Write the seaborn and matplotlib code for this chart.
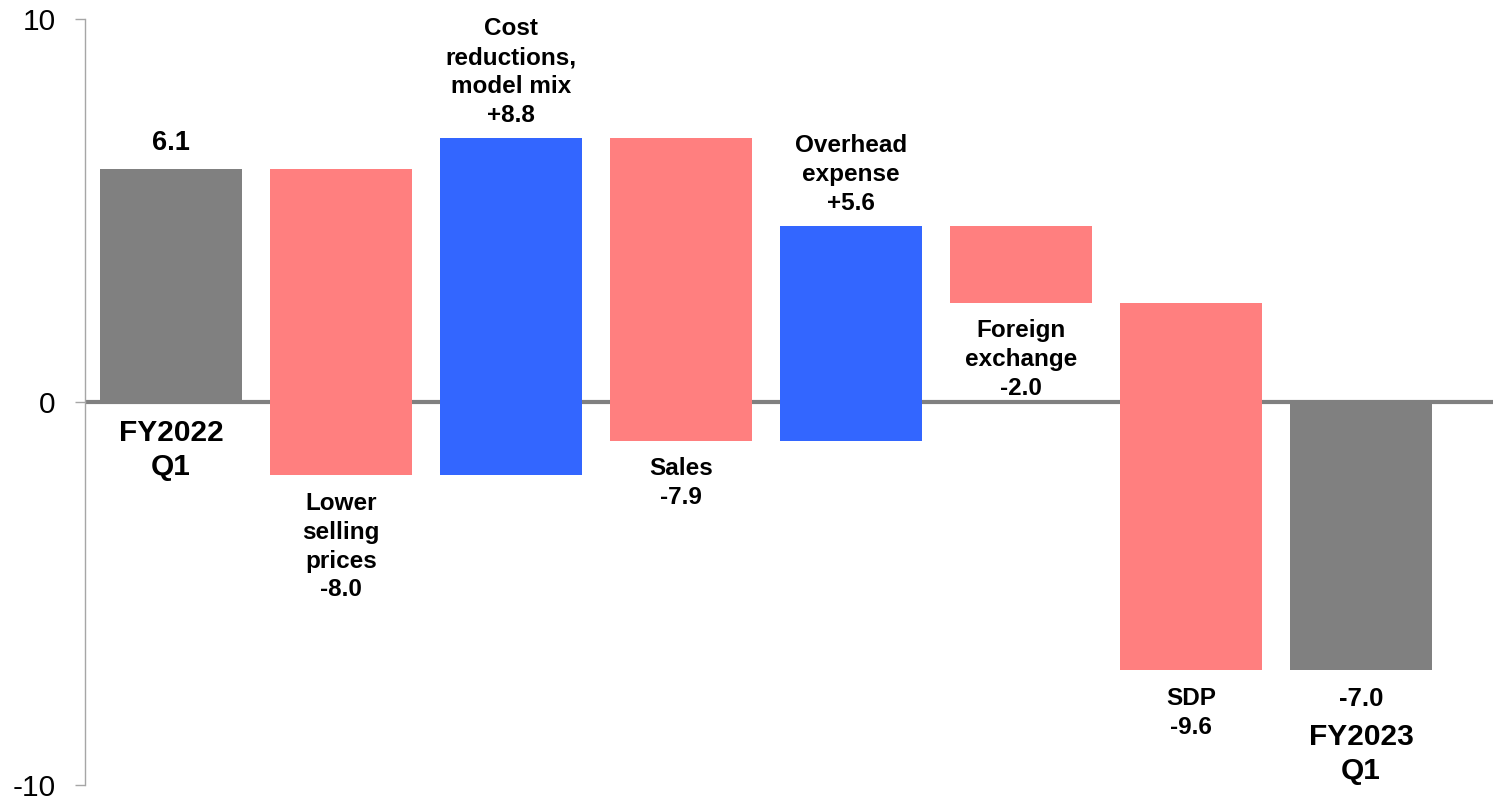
import matplotlib
matplotlib.use("Agg")
import matplotlib.pyplot as plt
import seaborn as sns
import numpy as np
import pandas as pd

# ---- data ----
categories = ["FY2022\nQ1", "Lower\nselling\nprices", "Cost\nreductions,\nmodel mix",
              "Sales", "Overhead\nexpense", "Foreign\nexchange", "SDP", "FY2023\nQ1"]
values = [6.1, -8.0, 8.8, -7.9, 5.6, -2.0, -9.6, -7.0]
kinds = ["total", "delta", "delta", "delta", "delta", "delta", "delta", "total"]
value_labels = ["6.1", "-8.0", "+8.8", "-7.9", "+5.6", "-2.0", "-9.6", "-7.0"]
y_ticks = [-10, 0, 10]

GRAY = "#808080"
RED = "#FF7F7F"
BLUE = "#3366FF"

# waterfall bottoms / heights
bottoms, heights, colors = [], [], []
running = 0.0
for v, k in zip(values, kinds):
    if k == "total":
        bottoms.append(0.0)
        heights.append(v)
        colors.append(GRAY)
        running = v
    else:
        bottoms.append(running)
        heights.append(v)
        colors.append(BLUE if v > 0 else RED)
        running = running + v

df = pd.DataFrame({"cat": categories, "height": heights})

sns.set_theme(style="white")
plt.rcParams["font.family"] = ["Liberation Sans", "DejaVu Sans"]
plt.rcParams["text.color"] = "black"

fig = plt.figure(figsize=(15.02, 8), dpi=100)
ax = fig.add_axes([85 / 1502, 15 / 800, (1493 - 85) / 1502, (780.5 - 15) / 800])

# zero line
ax.axhline(0, color=GRAY, lw=3, zorder=1)

sns.barplot(data=df, x="cat", y="height", bottom=np.array(bottoms), width=0.835,
            errorbar=None, ax=ax, zorder=2, linewidth=0, color=GRAY,
            saturation=1)
for p, c in zip(ax.patches, colors):
    p.set_facecolor(c)
    p.set_edgecolor(c)

ax.set_xlim(-0.506, 7.776)
ax.set_ylim(-10, 10)
ax.set_yticks(y_ticks)
ax.set_yticklabels([str(t) for t in y_ticks], fontsize=21.5, color="black")
ax.set_xticks([])
ax.set_xlabel("")
ax.set_ylabel("")

for s in ["top", "right", "bottom"]:
    ax.spines[s].set_visible(False)
ax.spines["left"].set_color("#A6A6A6")
ax.spines["left"].set_linewidth(1)
ax.tick_params(axis="y", left=True, direction="out", length=7, width=1,
               color="#A6A6A6", pad=14)

small = 17.5
big_val = 19.5
end_val = 18.5
big_name = 21.5
ls = 1.33
ls_big = 1.27

for i, (cat, v, k, lab) in enumerate(zip(categories, values, kinds, value_labels)):
    b = bottoms[i]
    top = max(b, b + v)
    bot = min(b, b + v)
    if k == "total" and v >= 0:
        ax.annotate(lab, (i, top), xytext=(0, 9), textcoords="offset points",
                    ha="center", va="bottom", fontsize=big_val, fontweight="bold",
                    color="black")
        ax.annotate(cat, (i, 0), xytext=(0, -12), textcoords="offset points",
                    ha="center", va="top", fontsize=big_name, fontweight="bold",
                    linespacing=ls_big, color="black")
    elif k == "total":
        ax.annotate(lab, (i, bot), xytext=(0, -12), textcoords="offset points",
                    ha="center", va="top", fontsize=end_val, fontweight="bold",
                    color="black")
        ax.annotate(cat, (i, bot), xytext=(0, -38), textcoords="offset points",
                    ha="center", va="top", fontsize=big_name, fontweight="bold",
                    linespacing=ls_big, color="black")
    elif v > 0:
        ax.annotate(cat + "\n" + lab, (i, top), xytext=(0, 8), textcoords="offset points",
                    ha="center", va="bottom", fontsize=small, fontweight="bold",
                    linespacing=ls, color="black")
    else:
        ax.annotate(cat + "\n" + lab, (i, bot), xytext=(0, -12), textcoords="offset points",
                    ha="center", va="top", fontsize=small, fontweight="bold",
                    linespacing=ls, color="black")

fig.savefig("out.png", dpi=100)
